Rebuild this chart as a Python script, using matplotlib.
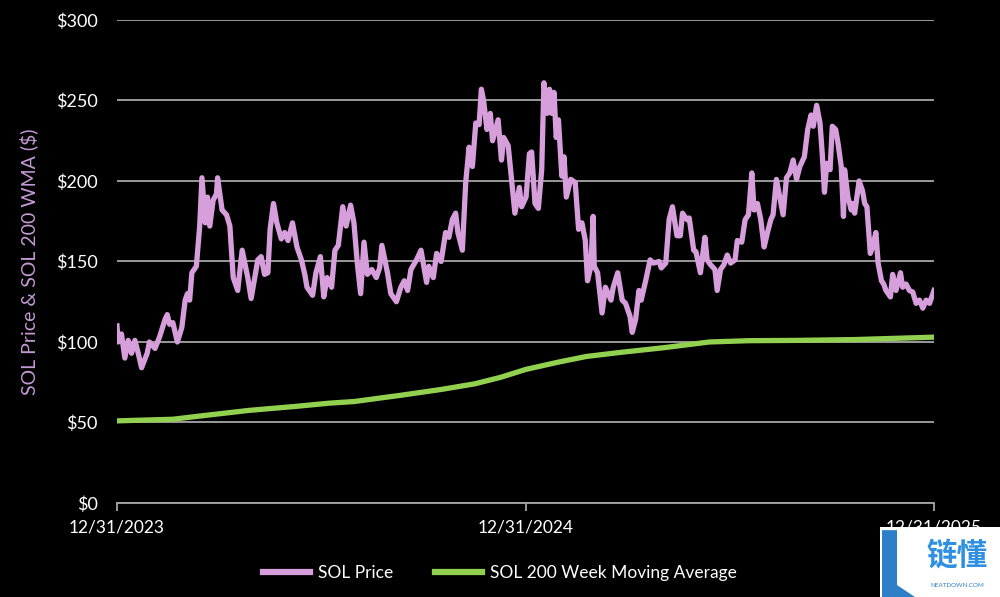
import numpy as np
import pandas as pd
import matplotlib
matplotlib.use("Agg")
import matplotlib.pyplot as plt
import matplotlib.dates as mdates
from matplotlib.patches import Rectangle, Polygon

plt.rcParams['font.family'] = ['Lato', 'Noto Sans CJK SC', 'DejaVu Sans']

start = pd.Timestamp("2023-12-31")

# SOL price (days after 12/31/2023, USD)
price_days = [
    0, 1, 4, 7, 10, 13, 16, 19, 22, 27, 29, 34, 38, 43, 45, 47, 50, 54, 58, 61,
    63, 65, 67, 71, 74, 76, 79, 81, 83, 86, 89, 90, 94, 98, 101, 104, 108, 112, 117, 120,
    126, 129, 132, 135, 137, 140, 143, 147, 150, 153, 157, 161, 165, 168, 170, 175, 178, 182, 185, 188,
    192, 195, 198, 202, 205, 209, 212, 215, 218, 221, 224, 228, 232, 235, 237, 242, 245, 250, 254, 257,
    260, 263, 268, 272, 277, 279, 283, 286, 290, 294, 297, 300, 303, 305, 309, 312, 315, 318, 321, 324,
    326, 328, 331, 334, 336, 341, 344, 346, 350, 353, 356, 360, 362, 366, 369, 371, 374, 377, 380, 382,
    385, 387, 389, 391, 393, 395, 398, 400, 402, 406, 410, 413, 416, 419, 421, 424, 426, 427, 430, 434,
    437, 442, 444, 448, 452, 455, 459, 461, 464, 467, 469, 473, 477, 480, 485, 487, 491, 494, 497, 501,
    504, 506, 510, 512, 516, 518, 522, 526, 528, 531, 535, 537, 540, 543, 546, 549, 553, 555, 559, 562,
    565, 568, 570, 573, 576, 579, 582, 585, 587, 590, 593, 596, 599, 602, 605, 608, 611, 615, 618, 621,
    623, 626, 629, 631, 633, 635, 638, 640, 643, 645, 648, 650, 651, 654, 657, 658, 660, 664, 667, 669,
    671, 674, 676, 679, 681, 684, 686, 688, 692, 694, 697, 701, 703, 706, 709, 712, 715, 718, 721, 724,
    727, 731,
]
sol_price = [
    110, 100, 105, 90, 101, 93, 101, 93, 84, 93, 100, 96, 103, 114, 117, 111, 112, 100, 109, 126,
    130, 126, 143, 147, 172, 202, 174, 190, 172, 188, 192, 202, 182, 179, 172, 140, 132, 157, 140, 127,
    151, 153, 142, 143, 170, 186, 174, 164, 168, 163, 174, 159, 151, 142, 134, 129, 143, 153, 128, 140,
    134, 157, 160, 184, 172, 185, 174, 149, 130, 162, 142, 145, 140, 146, 160, 143, 130, 125, 134, 138,
    132, 145, 151, 157, 137, 147, 140, 155, 150, 168, 165, 176, 180, 168, 157, 199, 221, 209, 236, 235,
    257, 250, 232, 242, 225, 238, 213, 227, 222, 201, 180, 196, 184, 190, 217, 218, 186, 183, 207, 261,
    242, 257, 242, 255, 227, 238, 203, 215, 190, 201, 199, 170, 174, 163, 138, 147, 178, 147, 143, 118,
    134, 126, 134, 143, 126, 124, 116, 106, 114, 132, 126, 138, 151, 149, 150, 146, 149, 176, 184, 166,
    166, 180, 176, 177, 157, 156, 143, 165, 151, 148, 145, 132, 145, 148, 154, 149, 151, 163, 162, 176,
    179, 205, 182, 186, 176, 159, 168, 176, 179, 201, 190, 179, 202, 205, 213, 201, 209, 215, 232, 241,
    234, 247, 236, 217, 193, 211, 207, 234, 232, 224, 209, 178, 207, 190, 182, 186, 180, 200, 194, 186,
    184, 155, 159, 168, 149, 138, 136, 132, 128, 142, 132, 143, 134, 136, 132, 131, 124, 126, 121, 126,
    124, 132,
]

# SOL 200 week moving average (days after 12/31/2023, USD)
wma_days = [0, 50, 74, 118, 160, 190, 212, 255, 290, 320, 343, 366, 395, 420, 450, 490, 530, 565, 610, 660, 731]
sol_wma = [51, 52, 54, 57.5, 60, 62, 63, 67, 70.5, 74, 78, 83, 87.5, 91, 93.5, 96.5, 100, 100.8, 101, 101.5, 103]

x_ticks = ["2023-12-31", "2024-12-31", "2025-12-31"]
y_ticks = [0, 50, 100, 150, 200, 250, 300]

pink = "#D69EDB"
green = "#92D050"
grid_c = "#A6A6A6"

price_dates = start + pd.to_timedelta(price_days, unit="D")
wma_dates = start + pd.to_timedelta(wma_days, unit="D")

fig = plt.figure(figsize=(10, 5.97), dpi=100, facecolor="black")
ax = fig.add_axes([0.117, 0.1575, 0.817, 0.809])
ax.set_facecolor("black")

ax.plot(price_dates, sol_price, color=pink, lw=3.8, label="SOL Price", zorder=3,
        solid_joinstyle="round")
ax.plot(wma_dates, sol_wma, color=green, lw=3.8, label="SOL 200 Week Moving Average", zorder=3)

ax.set_ylim(0, 300)
ax.set_xlim(pd.Timestamp(x_ticks[0]), pd.Timestamp(x_ticks[-1]))
ax.set_yticks(y_ticks)
ax.set_yticklabels([f"${v}" for v in y_ticks])
ax.set_xticks([pd.Timestamp(t) for t in x_ticks])
ax.xaxis.set_major_formatter(mdates.DateFormatter("%m/%d/%Y"))

ax.grid(axis="y", color=grid_c, lw=1.3, zorder=1)
for s in ["top", "right", "left"]:
    ax.spines[s].set_visible(False)
ax.spines["bottom"].set_color(grid_c)
ax.spines["bottom"].set_linewidth(1.3)

ax.tick_params(axis="y", length=0, pad=14, colors="white", labelsize=13)
ax.tick_params(axis="x", length=6, width=1.3, color=grid_c, labelcolor="white",
               labelsize=12.5, pad=6)

ax.set_ylabel("SOL Price & SOL 200 WMA ($)", color="#C39BD3", fontsize=14)
ax.yaxis.set_label_coords(-0.097, 0.5)

leg = fig.legend(loc="center", bbox_to_anchor=(0.5, 0.04), ncol=2, frameon=False,
                 fontsize=12.5, labelcolor="white", handlelength=2.7, handletextpad=0.45,
                 columnspacing=2.4)
for h in leg.legend_handles:
    h.set_linewidth(4.5)

# watermark box in the corner
fig.patches.append(Rectangle((0.88, 0.0), 0.12, 0.118, transform=fig.transFigure,
                             facecolor="white", edgecolor="none", zorder=5))
fig.patches.append(Polygon([(0.882, 0.112), (0.897, 0.112), (0.897, 0.02), (0.915, 0.0), (0.882, 0.0)],
                           closed=True, transform=fig.transFigure, facecolor="#2F7FC8",
                           edgecolor="none", zorder=6))
fig.text(0.957, 0.07, "链懂", color="#2F8FE0", fontsize=22, fontweight="bold",
         family=["Noto Sans CJK SC"], ha="center", va="center", zorder=7)
fig.text(0.957, 0.02, "NEATDOWN.COM", color="#2F7FC8", fontsize=4.5,
         ha="center", va="center", zorder=7)

fig.savefig("out.png", dpi=100, facecolor="black")
